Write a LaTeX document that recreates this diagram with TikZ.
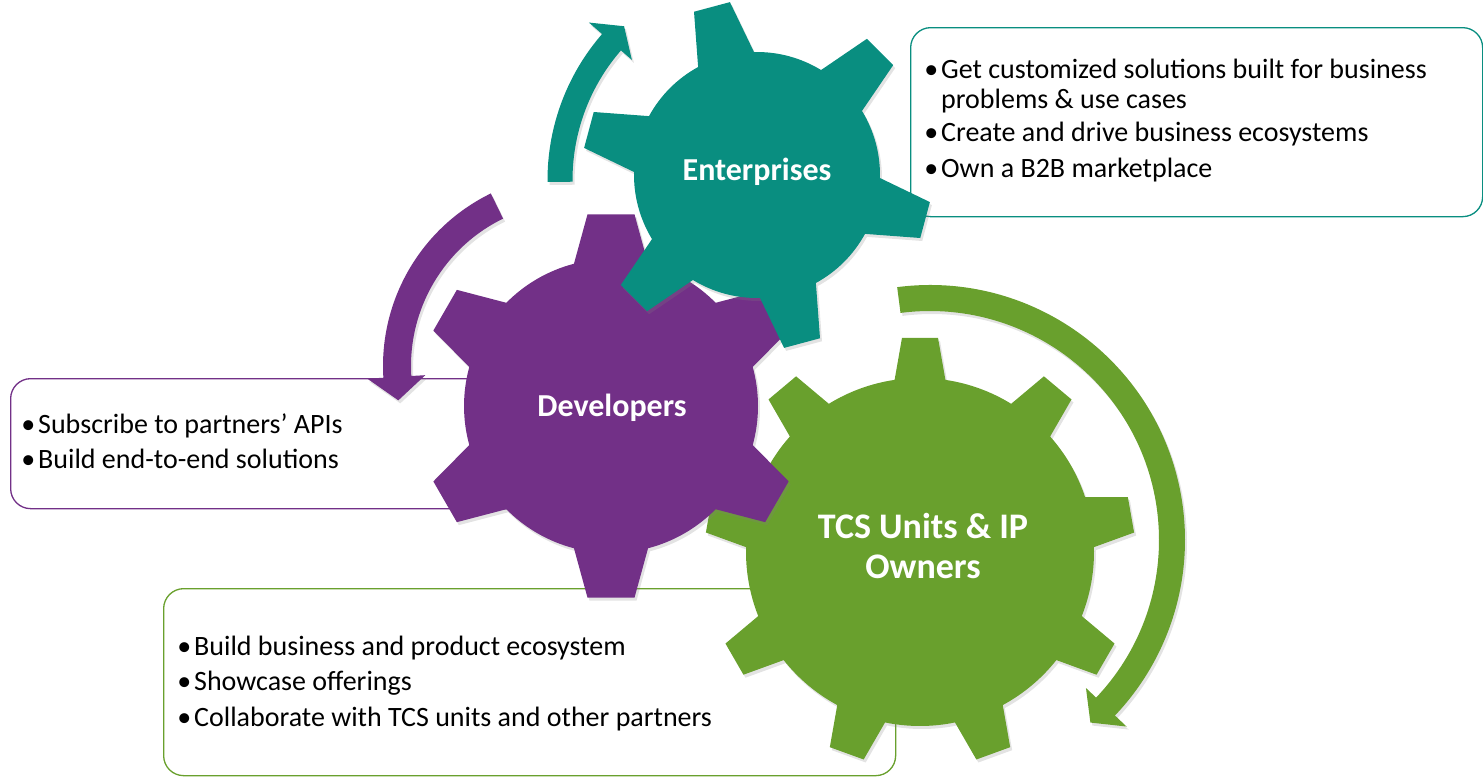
\documentclass[tikz,border=0pt]{standalone}
\usepackage{fontspec}
\setmainfont{Carlito}
\usetikzlibrary{shadows}
\definecolor{cteal}{HTML}{098E80}
\definecolor{cpurple}{HTML}{723087}
\definecolor{cgreen}{HTML}{69A02D}
\tikzset{
  gshadow/.style={drop shadow={opacity=0.22, shadow xshift=2pt, shadow yshift=-3pt}},
  infobox/.style={draw=#1, line width=1.3pt, rounded corners=20pt, fill=white, inner sep=0pt, anchor=north west},
  btxt/.style={anchor=base west, inner sep=0pt, font=\fontsize{28}{30}\selectfont, text=black},
  glabel/.style={inner sep=0pt, text=white, font=\bfseries\fontsize{32}{38}\selectfont, align=center}
}
\newcommand{\bul}{\makebox[0pt][r]{•\hspace{3pt}}}
\newcommand{\drawgear}[8]{%
  \pgfmathsetmacro{\gstep}{360/#5}%
  \begin{scope}[shift={(#2)}]
    \fill[#1, gshadow] ({#6-#8}:#3)
      \foreach \k in {1,...,#5}{
        -- ({#6+(\k-1)*\gstep-#7}:#4) -- ({#6+(\k-1)*\gstep+#7}:#4)
        -- ({#6+(\k-1)*\gstep+#8}:#3)
        arc[start angle={#6+(\k-1)*\gstep+#8}, end angle={#6+\k*\gstep-#8}, radius=#3]
      } -- cycle;
  \end{scope}}
\begin{document}
\begin{tikzpicture}[x=1pt,y=1pt]
\useasboundingbox (0,0) rectangle (1483,-777);
% centres
\coordinate (te) at (757,-175);
\coordinate (pu) at (611,-406);
\coordinate (gr) at (920,-552);
\coordinate (ta) at (770,-180);
\coordinate (pa) at (575,-366);
\coordinate (ga) at (930,-540);
% boxes
\node[infobox=cteal, minimum width=572pt, minimum height=189pt] (ebox) at (910,-27) {};
\node[infobox=cpurple, minimum width=610pt, minimum height=130pt] (dbox) at (10,-378) {};
\node[infobox=cgreen, minimum width=732pt, minimum height=187pt] (obox) at (163,-588) {};
% arrows
\fill[cteal, gshadow] ([shift={(180.5:222.5)}]ta) arc[start angle=180.5, end angle=139, radius=222.5]
  -- ([shift={(139:240)}]ta) -- ([shift={(133.5:212)}]ta) -- ([shift={(139:183)}]ta)
  -- ([shift={(139:197.5)}]ta) arc[start angle=139, end angle=180.5, radius=197.5] -- cycle;
\fill[cpurple, gshadow] ([shift={(116:192)}]pa) arc[start angle=116, end angle=183.5, radius=192]
  -- ([shift={(183.5:208)}]pa) -- ([shift={(191:180)}]pa) -- ([shift={(183.5:150)}]pa)
  -- ([shift={(183.5:164)}]pa) arc[start angle=183.5, end angle=116, radius=164] -- cycle;
\fill[cgreen, gshadow] ([shift={(97.4:255)}]ga) arc[start angle=97.4, end angle=-43.5, radius=255]
  -- ([shift={(-43.5:271)}]ga) -- ([shift={(-48.7:243)}]ga) -- ([shift={(-43.5:215)}]ga)
  -- ([shift={(-43.5:229)}]ga) arc[start angle=-43.5, end angle=97.4, radius=229] -- cycle;
% gears
\drawgear{cgreen}{gr}{174}{215}{9}{10}{4.8}{8.4}
\drawgear{cpurple}{pu}{147}{193}{6}{30}{7.0}{14.6}
\drawgear{cteal}{te}{123}{175}{6}{45}{6.1}{13.6}
% gear labels
\node[glabel, anchor=base] (entl) at (757,-180) {Enterprises};
\node[glabel, anchor=base] (devl) at (612,-416) {Developers};
\node[glabel, font=\bfseries\fontsize{36}{40}\selectfont] (tcsl) at (923,-545.5) {TCS Units \& IP\\Owners};
% texts
\node[btxt] (e1) at (941,-78) {\bul Get customized solutions built for business};
\node[btxt] (e2) at (941,-108) {problems \& use cases};
\node[btxt] (e3) at (941,-141) {\bul Create and drive business ecosystems};
\node[btxt] (e4) at (941,-177) {\bul Own a B2B marketplace};
\node[btxt] (d1) at (38,-433) {\bul Subscribe to partners’ APIs};
\node[btxt] (d2) at (38,-468) {\bul Build end-to-end solutions};
\node[btxt] (o1) at (194,-655) {\bul Build business and product ecosystem};
\node[btxt] (o2) at (194,-690) {\bul Showcase offerings};
\node[btxt] (o3) at (194,-726) {\bul Collaborate with TCS units and other partners};
\end{tikzpicture}
\end{document}
